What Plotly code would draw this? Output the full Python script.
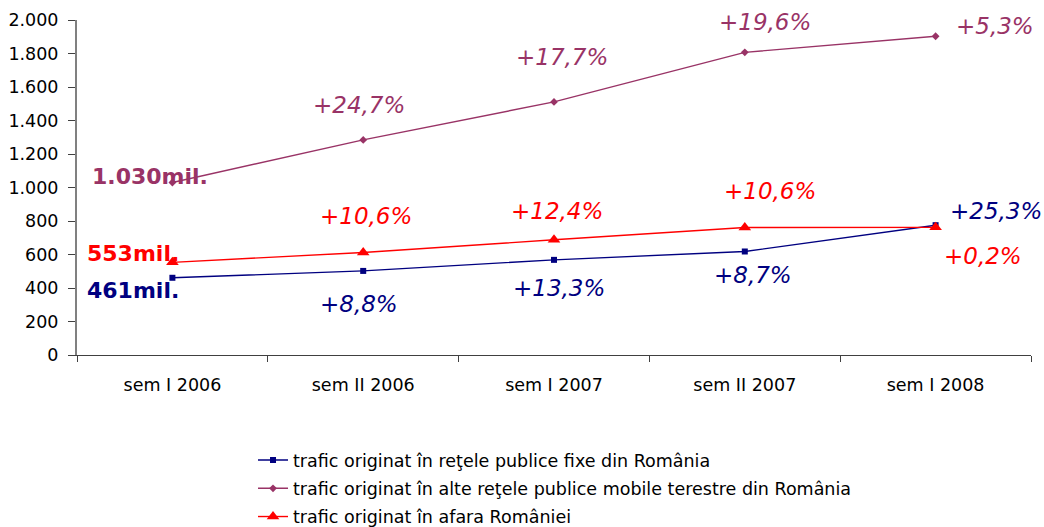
import plotly.graph_objects as go

categories = ["sem I 2006", "sem II 2006", "sem I 2007", "sem II 2007", "sem I 2008"]
fixe = [461, 502, 568, 618, 775]
mobile = [1030, 1284, 1511, 1807, 1903]
afara = [553, 612, 688, 761, 762]

name_fixe = "trafic originat în reţele publice fixe din România"
name_mobile = "trafic originat în alte reţele publice mobile terestre din România"
name_afara = "trafic originat în afara României"

pct_fixe = ["+8,8%", "+13,3%", "+8,7%", "+25,3%"]
pct_mobile = ["+24,7%", "+17,7%", "+19,6%", "+5,3%"]
pct_afara = ["+10,6%", "+12,4%", "+10,6%", "+0,2%"]

C_FIXE = "#000080"
C_MOB = "#993366"
C_AF = "#FF0000"
FONT = "DejaVu Sans, Verdana, sans-serif"

fig = go.Figure()
fig.add_trace(go.Scatter(x=categories, y=fixe, name=name_fixe, mode="lines+markers",
                         legendgroup="a",
                         line=dict(color=C_FIXE, width=1.4),
                         marker=dict(symbol="square", size=6, color=C_FIXE)))
fig.add_trace(go.Scatter(x=categories, y=mobile, name=name_mobile, mode="lines+markers",
                         legendgroup="b",
                         line=dict(color=C_MOB, width=1.4),
                         marker=dict(symbol="diamond", size=6, color=C_MOB)))
fig.add_trace(go.Scatter(x=categories, y=afara, name=name_afara, mode="lines+markers",
                         legendgroup="c",
                         line=dict(color=C_AF, width=1.4),
                         marker=dict(symbol="triangle-up", size=11, color=C_AF)))

ann = []
# percentage labels: offsets in pixels relative to the data points
off_mob = [(-4, 35), (8, 45), (20, 30), (59, 10)]
off_af = [(3, 36), (3, 29), (25, 37), (47, -29)]
off_fx = [(-4, -33), (5, -28), (8, -24), (60, 14)]
for i in range(4):
    for pcts, vals, offs, col in ((pct_mobile, mobile, off_mob, C_MOB),
                                  (pct_afara, afara, off_af, C_AF),
                                  (pct_fixe, fixe, off_fx, C_FIXE)):
        dx, dy = offs[i]
        ann.append(dict(x=categories[i + 1], y=vals[i + 1], text=f"<i>{pcts[i]}</i>",
                        showarrow=False, xshift=dx, yshift=dy,
                        font=dict(color=col, size=23, family=FONT)))

start_labels = [("1.030mil.", mobile[0], C_MOB, -22, 6),
                ("553mil.", afara[0], C_AF, -39, 9),
                ("461mil.", fixe[0], C_FIXE, -39, -13)]
for txt, v, col, dx, dy in start_labels:
    ann.append(dict(x=categories[0], y=v, text=f"<b>{txt}</b>", showarrow=False,
                    xshift=dx, yshift=dy, font=dict(color=col, size=22, family=FONT)))

fig.update_layout(
    width=1044, height=527,
    margin=dict(l=77, r=13, t=20, b=172, autoexpand=False),
    paper_bgcolor="white", plot_bgcolor="white",
    font=dict(family=FONT, size=17.5, color="black"),
    annotations=ann,
    legend=dict(x=0.1845, y=0.161, xref="paper", yref="container",
                xanchor="left", yanchor="top",
                font=dict(size=17.5, family=FONT), itemwidth=30,
                tracegroupgap=2.5),
    xaxis=dict(type="category", showline=True, linecolor="#404040", linewidth=1,
               ticks="outside", tickson="boundaries", ticklen=6, tickcolor="#404040",
               showgrid=False, tickfont=dict(size=17.5), range=[-0.5, 4.5],
               automargin=False, ticklabelstandoff=14),
    yaxis=dict(range=[0, 2000], dtick=200, showline=True, linecolor="#808080", linewidth=2,
               ticks="outside", ticklen=7, tickcolor="#404040", showgrid=False,
               tickformat=",d", tickfont=dict(size=17.5), automargin=False,
               ticklabelstandoff=6),
    separators=",.",
)

fig.write_html("out.html", config={"displayModeBar": False},
               post_script="document.body.style.margin='0';document.body.style.overflow='hidden';")
